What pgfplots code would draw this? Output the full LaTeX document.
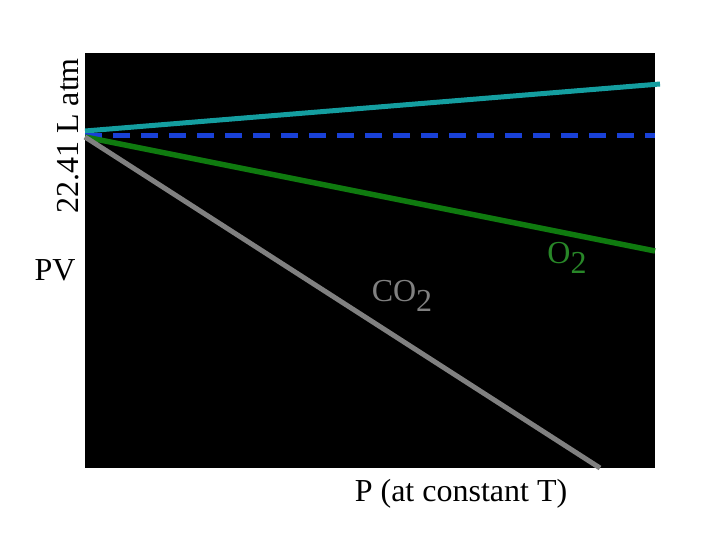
\documentclass[border=0pt]{standalone}
\usepackage{pgfplots}
\pgfplotsset{compat=1.18}
\usepackage{fontspec}
\setmainfont{Liberation Serif}
\definecolor{tealc}{RGB}{20,158,160}
\definecolor{bluec}{RGB}{25,65,215}
\definecolor{greenc}{RGB}{15,122,15}
\definecolor{grayc}{RGB}{128,128,128}
\definecolor{greenl}{RGB}{40,135,40}
\begin{document}
\begin{tikzpicture}
\fill[white] (0,0) rectangle (720pt,540pt);
\useasboundingbox (0,0) rectangle (720pt,540pt);
\begin{axis}[
  at={(85pt,72pt)}, anchor=south west,
  scale only axis, width=570pt, height=415pt,
  xmin=0, xmax=570, ymin=0, ymax=415,
  xtick=\empty, ytick=\empty,
  axis line style={draw=none},
  axis background/.style={fill=black},
  clip=false,
]
\addplot[color=tealc, line width=5pt, line cap=butt] coordinates {(0,337) (575,384)};
\addplot[color=bluec, line width=5pt, dash pattern=on 17pt off 11pt] coordinates {(0,332) (570,332)};
\addplot[color=greenc, line width=5.5pt] coordinates {(0,331) (570,217)};
\addplot[color=grayc, line width=5pt] coordinates {(0,331) (515,0)};
\node[text=grayc, font=\fontsize{32}{36}\selectfont] at (axis cs:317,172) {CO\raisebox{-10pt}{2}};
\node[text=greenl, font=\fontsize{32}{36}\selectfont] at (axis cs:482,210) {O\raisebox{-10pt}{2}};
\node[font=\fontsize{32}{36}\selectfont, rotate=90] at (axis cs:-17,332) {22.41 L atm};
\node[font=\fontsize{32}{36}\selectfont] at (axis cs:-30,198) {PV};
\node[font=\fontsize{32}{36}\selectfont] at (axis cs:376,-26) {P (at constant T)};
\end{axis}
\end{tikzpicture}
\end{document}
